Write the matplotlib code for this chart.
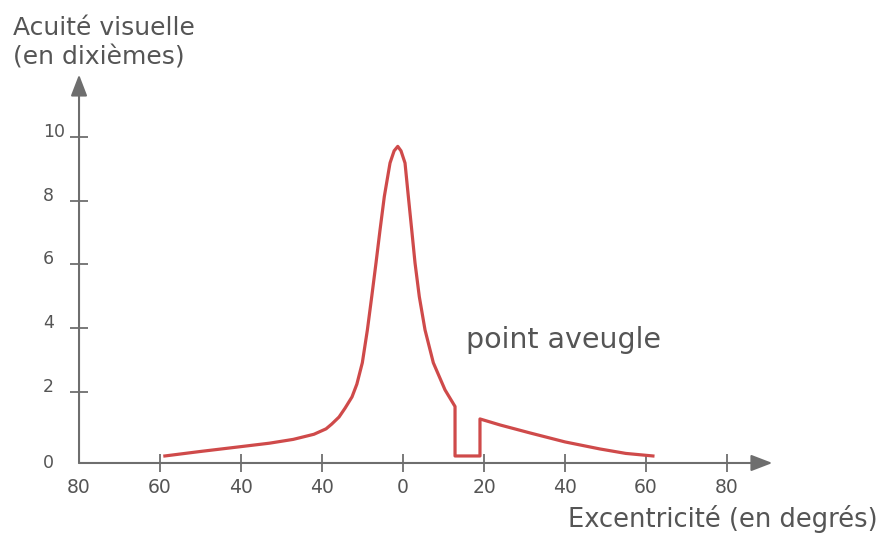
import matplotlib.pyplot as plt

# values (x in degrees, y in tenths)
ecc = [-58.8, -50.1, -40.2, -33.0, -27.1, -22.0, -19.0, -17.6, -15.8, -14.3,
       -12.6, -11.4, -10.05, -8.8, -7.73, -6.67, -5.68, -4.62, -3.21, -2.2,
       -1.3, -0.5, 0.49, 1.31, 2.15, 2.96, 4.02, 5.43, 7.48, 10.37, 12.84,
       12.84, 19.0, 19.0, 24.0, 31.4, 40.0, 48.6, 55.0, 61.7]
acuity = [0.0, 0.14, 0.29, 0.4, 0.52, 0.68, 0.85, 1.0, 1.22, 1.5,
          1.85, 2.25, 2.92, 3.95, 4.99, 6.05, 7.08, 8.13, 9.18, 9.56,
          9.7, 9.56, 9.18, 8.13, 7.08, 6.05, 4.99, 3.95, 2.92, 2.07, 1.55,
          0.0, 0.0, 1.16, 0.97, 0.72, 0.44, 0.22, 0.08, 0.0]

xtick_pos = [-80, -60, -40, -20, 0, 20, 40, 60, 80]
xtick_lab = ['80', '60', '40', '40', '0', '20', '40', '60', '80']
ytick_pos = [2, 4, 6, 8, 10]

grey = '#6e6e6e'
txt = '#555555'
red = '#cf4a4a'

fig = plt.figure(figsize=(8.8, 5.35), dpi=100)
ax = fig.add_axes([0.0898, 0.1346, 0.7916, 0.729])
ax.set_xlim(-80, 92)
ax.set_ylim(-0.22, 12.0)
for s in ax.spines.values():
    s.set_visible(False)

# axes with arrows
arr = dict(arrowstyle='-|>,head_length=1.3,head_width=0.5', color=grey, lw=1.5,
           shrinkA=0, shrinkB=0)
ax.annotate('', xy=(91.2, -0.22), xytext=(-80, -0.22), arrowprops=arr, annotation_clip=False)
ax.annotate('', xy=(-80, 11.95), xytext=(-80, -0.22), arrowprops=arr, annotation_clip=False)

ax.plot(ecc, acuity, color=red, lw=2.3, solid_joinstyle='round', clip_on=False)

ax.set_xticks(xtick_pos)
ax.set_xticklabels(xtick_lab)
ax.tick_params(axis='x', direction='inout', length=13, width=1.3, color=grey,
               labelcolor=txt, labelsize=13.5, pad=4)
ax.xaxis.get_major_ticks()[0].tick1line.set_visible(False)

ax.set_yticks(ytick_pos)
ax.set_yticklabels([])
ax.tick_params(axis='y', direction='inout', length=13, width=1.3, color=grey)
for v in ytick_pos:
    ax.text(-88.9, v, str(v), ha='left', va='baseline', fontsize=12.5, color=txt, clip_on=False)
ax.text(-88.9, -0.22, '0', ha='left', va='center', fontsize=12.5, color=txt, clip_on=False)

ax.text(15.5, 3.39, 'point aveugle', ha='left', va='baseline', fontsize=20.5, color=txt)

fig.text(13 / 880, 1 - 35 / 535, 'Acuité visuelle', ha='left', va='baseline',
         fontsize=18, color=txt)
fig.text(13 / 880, 1 - 65 / 535, '(en dixièmes)', ha='left', va='baseline',
         fontsize=18, color=txt)
fig.text(878 / 880, 1 - 527 / 535, 'Excentricité (en degrés)', ha='right', va='baseline',
         fontsize=18.5, color=txt)

fig.savefig('out.png', dpi=100, facecolor='white')
